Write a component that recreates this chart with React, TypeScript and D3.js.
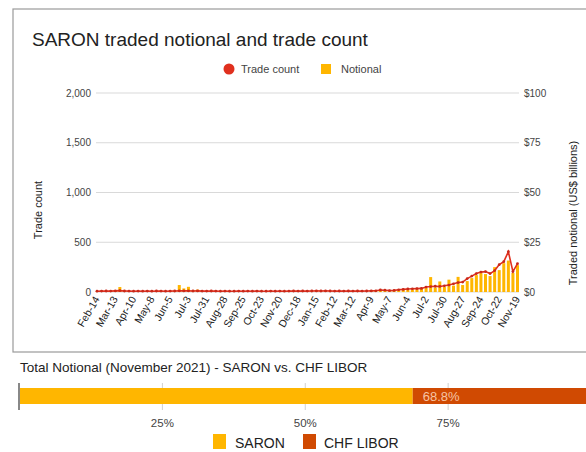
import React from "react";
import * as d3 from "d3";

const tickLabels = ["Feb-14","Mar-13","Apr-10","May-8","Jun-5","Jul-3","Jul-31","Aug-28","Sep-25","Oct-23","Nov-20","Dec-18","Jan-15","Feb-12","Mar-12","Apr-9","May-7","Jun-4","Jul-2","Jul-30","Aug-27","Sep-24","Oct-22","Nov-19"];

// weekly trade count, Feb-14-2020 .. Nov-19-2021 (93 weeks)
const tradeCount = [
  8, 9, 10, 9, 11, 14, 10, 9, 8, 9,
  8, 9, 8, 10, 9, 8, 9, 10, 12, 11,
  12, 10, 11, 9, 9, 10, 9, 8, 9, 8,
  8, 9, 8, 9, 8, 9, 8, 8, 9, 8,
  9, 8, 9, 10, 9, 10, 9, 10, 11, 10,
  11, 10, 9, 10, 9, 10, 9, 10, 9, 10,
  11, 12, 20, 18, 14, 16, 22, 26, 30, 32,
  34, 36, 50, 55, 58, 56, 62, 70, 82, 95,
  100, 135, 160, 185, 200, 205, 185, 215, 275, 305,
  405, 205, 285
];

// weekly traded notional (US$ billions)
const notional = [
  0.3, 0.4, 0.3, 0.5, 0.9, 2.5, 0.6, 0.3, 0.3, 0.4,
  0.3, 0.3, 0.3, 0.4, 0.3, 0.3, 0.4, 0.5, 3.5, 1.8,
  2.6, 0.8, 1.2, 0.4, 0.4, 0.6, 0.3, 0.3, 0.5, 0.3,
  0.3, 0.3, 0.3, 0.3, 0.3, 0.3, 0.3, 0.3, 0.3, 0.3,
  0.3, 0.3, 0.3, 0.4, 0.3, 0.4, 0.3, 0.3, 0.4, 0.3,
  0.5, 0.3, 0.3, 0.3, 0.3, 0.3, 0.3, 0.3, 0.3, 0.3,
  0.4, 0.4, 0.8, 0.6, 0.4, 0.5, 0.8, 1.0, 1.2, 1.3,
  1.4, 1.5, 2.0, 7.5, 2.2, 5.3, 2.5, 6.2, 3.2, 7.6,
  3.5, 5.5, 7.0, 8.5, 9.5, 9.0, 8.0, 12.5, 11.0, 14.5,
  15.8, 9.6, 13.5
];

const leftTicks = [0, 500, 1000, 1500, 2000];
const rightTicks = [0, 25, 50, 75, 100];

const shareLabels = ["SARON", "CHF LIBOR"];
const shareValues = [68.8, 31.2];
const shareTicks = [25, 50, 75];

const RED = "#E0301E";
const YELLOW = "#FFB600";
const ORANGE = "#D04A02";
const FONT = "Liberation Sans, Arial, sans-serif";

export default function App() {
  const W = 586, H = 452;
  const plotL = 96, plotR = 519, plotT = 93, plotB = 292;
  const n = tradeCount.length;
  const x = d3.scaleLinear().domain([0, n - 1]).range([97, 517.5]);
  const yL = d3.scaleLinear().domain([0, 2000]).range([plotB, plotT]);
  const yR = d3.scaleLinear().domain([0, 100]).range([plotB, plotT]);
  const line = d3.line<number>().x((_, i) => x(i)).y((d) => yL(d));
  const barW = 3;

  const bx = d3.scaleLinear().domain([0, 100]).range([19.5, 591]);
  const stack = shareValues.reduce<{ s: number; e: number }[]>((acc, v) => {
    const s = acc.length ? acc[acc.length - 1].e : 0;
    acc.push({ s, e: s + v });
    return acc;
  }, []);

  return (
    <div style={{ position: "absolute", left: 0, top: 0 }}>
      <svg width={W} height={H} style={{ display: "block", fontFamily: FONT }}>
        <rect x={0} y={0} width={W} height={H} fill="#fff" />
        <rect x={13} y={9} width={W} height={343} fill="#fff" stroke="#9a9a9a" strokeWidth={1.2} />
        <text x={32} y={46} fontSize={19} fill="#222">SARON traded notional and trade count</text>

        {/* legend */}
        <circle cx={229} cy={69} r={5.5} fill={RED} />
        <text x={241} y={73} fontSize={11} fill="#444">Trade count</text>
        <rect x={321} y={64} width={10} height={10} fill={YELLOW} />
        <text x={341} y={73} fontSize={11} fill="#444">Notional</text>

        {/* grid */}
        {leftTicks.map((t) => (
          <g key={t}>
            <line x1={plotL} x2={plotR} y1={yL(t)} y2={yL(t)} stroke="#d9d9d9" strokeWidth={1} />
            <text x={91} y={yL(t) + 3.5} fontSize={10} fill="#444" textAnchor="end">{d3.format(",")(t)}</text>
          </g>
        ))}
        {rightTicks.map((t) => (
          <text key={t} x={524} y={yR(t) + 3.5} fontSize={10} fill="#444">{"$" + t}</text>
        ))}

        <text transform={`translate(42,210) rotate(-90)`} fontSize={11} fill="#222" textAnchor="middle">Trade count</text>
        <text transform={`translate(577,213) rotate(-90)`} fontSize={11} fill="#222" textAnchor="middle">Traded notional (US$ billions)</text>

        {/* bars */}
        {notional.map((v, i) => (
          <rect key={i} x={x(i) - barW / 2} y={yR(v)} width={barW} height={plotB - yR(v)} fill={YELLOW} />
        ))}

        {/* line */}
        <path d={line(tradeCount) || ""} fill="none" stroke={RED} strokeWidth={1.6} />
        {tradeCount.map((v, i) => (
          <circle key={i} cx={x(i)} cy={yL(v)} r={1.4} fill="#c8281a" />
        ))}

        {/* x labels */}
        {tickLabels.map((lab, k) => (
          <text key={lab + k} transform={`translate(${x(k * 4) + 3},${plotB + 7}) rotate(-60)`} fontSize={10.5} fill="#222" textAnchor="end">{lab}</text>
        ))}

        {/* bottom chart */}
        <text x={20} y={372} fontSize={13.5} fill="#222">Total Notional (November 2021) - SARON vs. CHF LIBOR</text>
        {shareTicks.map((t) => (
          <g key={t}>
            <line x1={bx(t)} x2={bx(t)} y1={383} y2={410} stroke="#d0d0d0" strokeWidth={1} />
            <text x={bx(t)} y={427} fontSize={11.5} fill="#444" textAnchor="middle">{t + "%"}</text>
          </g>
        ))}
        {stack.map((s, i) => (
          <rect key={i} x={bx(s.s)} y={388} width={bx(s.e) - bx(s.s)} height={16} fill={i === 0 ? YELLOW : ORANGE} />
        ))}
        <line x1={19} x2={19} y1={383} y2={410} stroke="#888" strokeWidth={2} />
        <text x={bx(stack[0].e) + 10} y={401} fontSize={13} fill="#f6c4a4">{shareValues[0] + "%"}</text>

        <rect x={213} y={434} width={13} height={15} fill={YELLOW} />
        <text x={235} y={448} fontSize={14} fill="#222">{shareLabels[0]}</text>
        <rect x={303} y={434} width={13} height={15} fill={ORANGE} />
        <text x={324} y={448} fontSize={14} fill="#222">{shareLabels[1]}</text>
      </svg>
    </div>
  );
}
